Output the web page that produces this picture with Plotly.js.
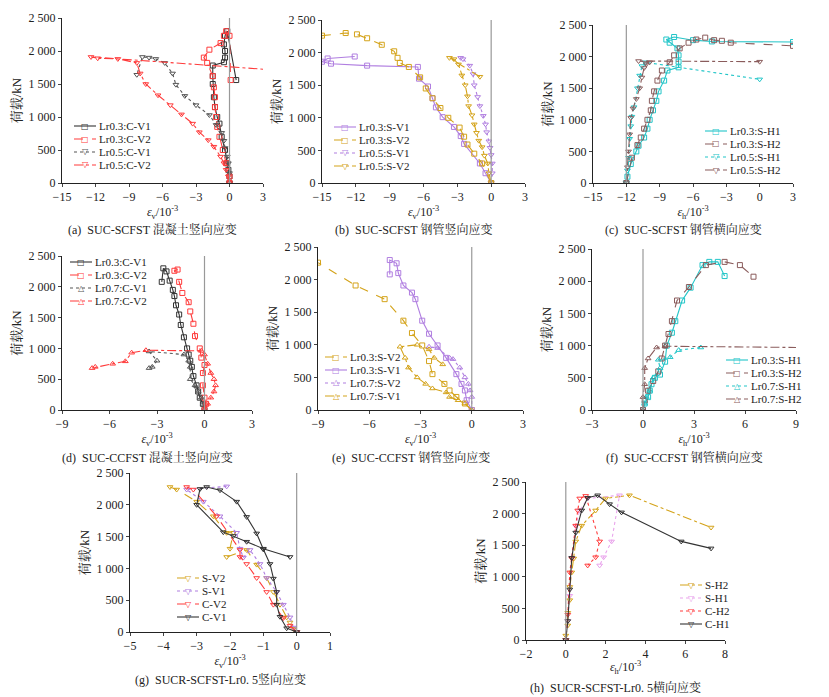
<!DOCTYPE html>
<html><head><meta charset="utf-8">
<script src="https://cdn.plot.ly/plotly-3.0.1.min.js"></script>
<style>body{margin:0;background:#fff}</style></head>
<body><div id="chart" style="width:829px;height:697px"></div>
<script>
// ---- data (strain x 10^-3, load kN) ----
// (a) SUC-SCFST concrete vertical
const aC1x = [0,0,-0.1,-0.2,-0.4,-0.7,-0.9,-1.1,-1.3,-1.4,-1.5,-1.5,-1.5,-0.5,-0.4,-0.4,-0.5,-0.4,-0.2,0.6];
const aC1y = [0,100,200,300,500,700,900,1000,1150,1300,1500,1620,1780,1830,1900,2000,2100,2230,2300,1560];
const aC2x = [0,0,-0.3,-0.6,-0.9,-1.1,-1.2,-1.3,-1.3,-1.4,-1.5,-2,-2.3,-1.8,-0.8,-0.5,-0.3,0,0.1];
const aC2y = [0,100,300,500,700,850,1000,1150,1300,1450,1620,1820,1900,2020,2120,2230,2300,2230,1560];
const aC3x = [0,0,-0.1,-0.2,-0.4,-0.5,-0.7,-1.2,-1.8,-3,-4,-4.8,-5.1,-5.8,-6.6,-7.2,-7.8,-8.3];
const aC3y = [0,150,300,400,530,640,760,880,1030,1180,1320,1490,1660,1820,1880,1900,1910,1640];
const aC4x = [0,-0.1,-0.3,-0.5,-0.8,-1.4,-1.9,-2.7,-3.3,-4.3,-5.3,-6.4,-7.5,-8,-8.3,-10,-11.8,-12.4,5];
const aC4y = [0,100,200,300,400,550,650,770,900,1040,1180,1330,1500,1660,1820,1880,1890,1910,1700];
// (b) SUC-SCFST steel vertical
const bS1x = [0,-0.5,-1,-2.4,-2.7,-3.3,-4.3,-4.9,-5.2,-5.6,-6.4,-6.5,-11,-14.2,-15,-14.5,-12.1];
const bS1y = [0,150,300,600,720,860,1010,1160,1300,1480,1600,1780,1800,1830,1860,1910,1940];
const bS2x = [0,-0.8,-1.5,-2.1,-2.4,-2.8,-3.8,-4.5,-5.2,-5.8,-6.3,-7.3,-8.1,-8.3,-8.6,-9.7,-11,-11.9,-12.9,-15];
const bS2y = [0,300,450,590,710,850,1000,1150,1300,1450,1620,1780,1840,1920,2020,2120,2220,2280,2300,2260];
const bS3x = [0,0.1,0.1,0,-0.1,-0.2,-0.4,-0.5,-0.7,-1,-1.2,-1.5,-1.6,-1.9,-2.5,-2.7];
const bS3y = [0,150,300,430,540,640,780,900,1030,1180,1320,1500,1670,1800,1900,1920];
const bS4x = [0,-0.2,-0.3,-0.6,-0.8,-1.1,-1.3,-1.5,-1.7,-2,-2.1,-2.3,-2.6,-2.9,-3.3,-3.7,-1];
const bS4y = [0,150,300,420,550,650,770,900,1040,1180,1330,1500,1650,1820,1900,1920,1630];
// (c) SUC-SCFST steel hoop
const cH1x = [-12,-11.9,-11.6,-11.1,-10.9,-10.4,-10.1,-9.9,-9.6,-9.3,-9.1,-8.6,-8.3,-7.3,-7.3,-7.3,-7.4,-8.1,-8.4,-7.7,-6,-4.3,3];
const cH1y = [0,100,300,500,590,720,860,1000,1150,1300,1450,1620,1780,1830,1920,2020,2130,2220,2270,2310,2260,2240,2230];
const cH2x = [-12,-11.5,-11,-10.7,-10.4,-10.1,-9.8,-9.7,-9.5,-9.2,-8.8,-8.1,-7.7,-7.2,-6.4,-5.7,-4.9,-4.1,-3.4,-2.6,3];
const cH2y = [0,400,600,720,860,1000,1150,1300,1450,1620,1780,1910,2020,2130,2220,2270,2300,2260,2250,2220,2170];
const cH3x = [-12,-11.9,-11.8,-11.7,-11.6,-11.5,-11.3,-11,-10.8,-10.6,-10.3,0];
const cH3y = [0,200,400,700,900,1050,1200,1500,1700,1850,1910,1640];
const cH4x = [-12,-11.9,-11.8,-11.7,-11.6,-11.4,-11.1,-10.8,-10.6,-10.4,-10.2,-9.9,-10.9,0];
const cH4y = [0,250,500,770,1030,1180,1330,1500,1670,1820,1880,1910,1930,1920];
// (d) SUC-CCFST concrete vertical
const dC1x = [0,-0.1,-0.3,-0.4,-0.5,-0.7,-0.8,-0.9,-1,-1.1,-1.3,-1.5,-1.6,-1.8,-1.9,-2,-2.2,-2.4,-2.6,-2.7];
const dC1y = [0,100,200,300,400,550,700,800,900,1000,1180,1380,1550,1700,1850,1950,2100,2250,2300,2080];
const dC2x = [0,0.1,0,-0.1,-0.1,0,-0.2,-0.3,-0.6,-0.7,-0.9,-1,-1.4,-1.6,-1.9,-1.7];
const dC2y = [0,100,200,400,600,730,850,1000,1200,1400,1600,1750,1900,2080,2260,2280];
const dC3x = [0,-0.1,-0.2,-0.4,-0.6,-0.9,-0.9,-1,-1.3,-3.5,-3,-3.3,-3.5];
const dC3y = [0,100,200,300,400,500,700,800,900,950,800,700,680];
const dC4x = [0,0.2,0.4,0.6,0.7,0.6,0.4,0.2,0,-0.2,-3.7,-4.6,-5,-5.8,-6.9,-7.1];
const dC4y = [0,100,200,300,400,500,600,750,900,960,970,930,790,750,700,680];
// (e) SUC-CCFST steel vertical
const eS1x = [0,-0.4,-0.9,-1.3,-1.6,-2.3,-2.5,-2.9,-3.5,-4,-5.1,-6.8,-9];
const eS1y = [0,100,200,300,400,550,750,990,1180,1370,1700,1910,2260];
const eS2x = [0,-0.3,-0.4,-0.6,-0.9,-1.5,-2,-2.5,-2.9,-3.3,-3.5,-4,-4.3,-4.4,-4.8,-4.8];
const eS2y = [0,150,300,400,550,800,990,1170,1370,1700,1800,1910,2100,2250,2300,2080];
const eS3x = [0,0,-0.1,-0.2,-0.4,-0.7,-1.1,-1.3,-2,-2.5];
const eS3y = [0,200,300,400,500,650,780,800,950,970];
const eS4x = [0,-0.4,-0.8,-1.3,-1.5,-2.3,-2.7,-3.2,-3.7,-3.9,-4.2,-3.2,-2.5,-2.2,-1.7];
const eS4y = [0,100,150,200,270,330,400,500,650,800,970,1000,930,800,700];
// (f) SUC-CCFST steel hoop
const fH1x = [0,0.1,0.3,0.4,0.5,0.7,1,1.3,1.4,1.7,1.9,2.3,2.8,3.5,3.9,4.4,4.8];
const fH1y = [0,100,200,300,400,500,550,750,1000,1200,1380,1700,1900,2250,2300,2300,2080];
const fH2x = [0,0.1,0.3,0.6,0.9,1.1,1.3,1.5,1.7,2,2.7,3.7,4.8,5.7,6.5];
const fH2y = [0,150,300,450,600,800,1000,1180,1380,1700,1910,2250,2300,2250,2070];
const fH3x = [0,0.1,0.2,0.4,0.6,1,0.9,1.6,2.1,3.4];
const fH3y = [0,100,200,300,500,650,780,820,930,970];
const fH4x = [0,0,0.1,0.1,0.3,0.8,1.3,9.5];
const fH4y = [0,200,400,650,800,970,990,970];
// (g) SUCR-SCFST-Lr0.5 vertical
const gS2x = [0,-0.1,-0.2,-0.3,-0.5,-0.7,-0.9,-1.2,-1.5,-2.1,-2,-1.9,-2.1,-2.5,-3,-3.6,-3.8];
const gS2y = [0,50,150,230,430,630,850,1060,1290,1180,1310,1560,1560,1820,2050,2240,2280];
const gS1x = [0,-0.1,-0.2,-0.4,-0.6,-0.9,-1.1,-1.4,-1.6,-1.7,-1.8,-2.3,-2.8,-3.3,-2.1];
const gS1y = [0,70,230,430,630,850,1070,1290,1170,1310,1560,1820,2050,2240,2290];
const gC2x = [0,-0.2,-0.4,-0.7,-0.9,-1.2,-1.5,-1.7,-1.7,-2.4,-3.1,-3.3];
const gC2y = [0,100,220,430,630,850,1070,1180,1290,1820,2240,2280];
const gC1x = [0,-0.3,-0.5,-0.6,-0.6,-0.7,-0.8,-1,-1.2,-1.5,-1.8,-2.3,-2.7,-2.9,-3,-2.2,-1.9,-1.5,-1,-0.2];
const gC1y = [0,60,240,430,630,840,1070,1300,1550,1810,2050,2230,2280,2250,2000,1570,1510,1420,1310,1180];
// (h) SUCR-SCFST-Lr0.5 hoop
const hS2x = [0,0,0.1,0.1,0.2,0.2,0.3,0.4,0.5,0.8,1.5,2,3.2,7.3];
const hS2y = [0,70,230,430,630,840,1070,1290,1560,1810,2050,2240,2290,1780];
const hS1x = [0,0.1,0.2,0.3,0.5,0.7,1.1,2.7,2.3,1.9,1.7];
const hS1y = [0,300,700,1300,1800,2050,2240,2290,1560,1310,1180];
const hC2x = [0,0.1,0.2,0.3,0.5,0.6,0.7,1,1.7,1.5,1.1];
const hC2y = [0,400,1070,1290,1810,2050,2240,2280,1560,1310,1180];
const hC1x = [0,0.1,0.2,0.3,0.5,0.8,1.1,1.6,2.2,2.8,5.8,7.3];
const hC1y = [0,300,800,1300,1700,2050,2250,2290,2150,2020,1560,1450];

const yTicks = [0,500,1000,1500,2000,2500];
const yTickText = ['0','500','1 000','1 500','2 000','2 500'];

const BLACK='#333333', RED='#ff3b3b', GRAY='#555555', PURPLE='#b07ee0', GOLD='#d4a31a',
      CYAN='#22c5c8', BROWN='#8a5c5c', PINK='#e9a3ec';
const SQ='square-open', TD='triangle-down-open', TU='triangle-up-open';
const GLYPH = {'square-open':'□', 'triangle-down-open':'▽', 'triangle-up-open':'△'};

// panel boxes in pixels: [left, right, top, bottom]; leg = [sample left x, first row y]
const W=829, H=697;
const panels = [
  {box:[62,263,18,183], xr:[-15,3], dt:3, cap:'(a)  SUC-SCFST 混凝土竖向应变', sub:'v', leg:[74,126]},
  {box:[322,525,20,183], xr:[-15,3], dt:3, cap:'(b)  SUC-SCFST 钢管竖向应变', sub:'v', leg:[334,127]},
  {box:[593,793,25,183], xr:[-15,3], dt:3, cap:'(c)  SUC-SCFST 钢管横向应变', sub:'h', leg:[705,131]},
  {box:[62,252,256,410], xr:[-9,3], dt:3, cap:'(d)  SUC-CCFST 混凝土竖向应变', sub:'v', leg:[70,262]},
  {box:[318,523,247,410], xr:[-9,3], dt:3, cap:'(e)  SUC-CCFST 钢管竖向应变', sub:'v', leg:[325,357]},
  {box:[592,796,249,410], xr:[-3,9], dt:3, cap:'(f)  SUC-CCFST 钢管横向应变', sub:'h', leg:[726,360]},
  {box:[130,330,473,632], xr:[-5,1], dt:1, cap:'(g)  SUCR-SCFST-Lr0. 5竖向应变', sub:'v', leg:[177,578]},
  {box:[526,725,482,640], xr:[-2,8], dt:2, cap:'(h)  SUCR-SCFST-Lr0. 5横向应变', sub:'h', leg:[680,585]}
];
const zeroX = [0,0,-12,0,0,0,0,0];

const series = [
  [['Lr0.3:C-V1',aC1x,aC1y,BLACK,'solid',SQ],['Lr0.3:C-V2',aC2x,aC2y,RED,'dash',SQ],
   ['Lr0.5:C-V1',aC3x,aC3y,GRAY,'dot',TD],['Lr0.5:C-V2',aC4x,aC4y,RED,'dashdot',TD]],
  [['Lr0.3:S-V1',bS1x,bS1y,PURPLE,'solid',SQ],['Lr0.3:S-V2',bS2x,bS2y,GOLD,'dash',SQ],
   ['Lr0.5:S-V1',bS3x,bS3y,PURPLE,'dot',TD],['Lr0.5:S-V2',bS4x,bS4y,GOLD,'dashdot',TD]],
  [['Lr0.3:S-H1',cH1x,cH1y,CYAN,'solid',SQ],['Lr0.3:S-H2',cH2x,cH2y,BROWN,'dash',SQ],
   ['Lr0.5:S-H1',cH3x,cH3y,CYAN,'dot',TD],['Lr0.5:S-H2',cH4x,cH4y,BROWN,'dashdot',TD]],
  [['Lr0.3:C-V1',dC1x,dC1y,BLACK,'solid',SQ],['Lr0.3:C-V2',dC2x,dC2y,RED,'dash',SQ],
   ['Lr0.7:C-V1',dC3x,dC3y,GRAY,'dot',TU],['Lr0.7:C-V2',dC4x,dC4y,RED,'dashdot',TU]],
  [['Lr0.3:S-V2',eS1x,eS1y,GOLD,'dash',SQ],['Lr0.3:S-V1',eS2x,eS2y,PURPLE,'solid',SQ],
   ['Lr0.7:S-V2',eS3x,eS3y,PURPLE,'dot',TU],['Lr0.7:S-V1',eS4x,eS4y,GOLD,'dashdot',TU]],
  [['Lr0.3:S-H1',fH1x,fH1y,CYAN,'solid',SQ],['Lr0.3:S-H2',fH2x,fH2y,BROWN,'dash',SQ],
   ['Lr0.7:S-H1',fH3x,fH3y,CYAN,'dot',TU],['Lr0.7:S-H2',fH4x,fH4y,BROWN,'dashdot',TU]],
  [['S-V2',gS2x,gS2y,GOLD,'dash',TD],['S-V1',gS1x,gS1y,PURPLE,'dot',TD],
   ['C-V2',gC2x,gC2y,RED,'dash',TD],['C-V1',gC1x,gC1y,BLACK,'solid',TD]],
  [['S-H2',hS2x,hS2y,GOLD,'dashdot',TD],['S-H1',hS1x,hS1y,PINK,'dot',TD],
   ['C-H2',hC2x,hC2y,RED,'dot',TD],['C-H1',hC1x,hC1y,BLACK,'solid',TD]]
];

const FONT = 'Liberation Serif, "Noto Sans CJK SC", serif';
const CJK = 'Liberation Serif, "Noto Serif CJK SC", "Noto Sans CJK SC", serif';
const data = [], shapes = [], annotations = [];
const layout = {width:W, height:H, margin:{l:0,r:0,t:0,b:0}, paper_bgcolor:'#fff', showlegend:false,
  plot_bgcolor:'rgba(0,0,0,0)', font:{family:FONT, size:12, color:'#222'}, shapes, annotations};
const px = v => v/W, py = v => 1 - v/H;

panels.forEach((p,i) => {
  const n = i===0 ? '' : String(i+1);
  const [l,r,t,b] = p.box;
  const ticks = [];
  for (let v=p.xr[0]; v<=p.xr[1]+1e-9; v+=p.dt) ticks.push(v);
  layout['xaxis'+n] = {domain:[px(l), px(r)], range:p.xr, anchor:'y'+n, showgrid:false, zeroline:false,
    showline:true, linecolor:'#222', ticks:'outside', ticklen:3, tickvals:ticks,
    ticktext:ticks.map(v=>v<0?'\u2212'+(-v):String(v)), tickfont:{size:12},
    title:{text:'<i>ε</i><sub>'+p.sub+'</sub>/10<sup>-3</sup>', standoff:2, font:{size:12}}};
  layout['yaxis'+n] = {domain:[py(b), py(t)], range:[0,2500], anchor:'x'+n, showgrid:false, zeroline:false,
    showline:true, linecolor:'#222', ticks:'outside', ticklen:3, tickvals:yTicks, ticktext:yTickText,
    tickfont:{size:12}, title:{text:'荷载/kN', standoff:4, font:{family:CJK, size:13}}};
  shapes.push({type:'line', xref:'x'+n, yref:'y'+n+' domain', x0:zeroX[i], x1:zeroX[i], y0:0, y1:1,
    line:{color:'#999', width:1.2}});
  annotations.push({xref:'paper', yref:'paper', x:px((l+r)/2 - 10), y:py(b+47), xanchor:'center',
    yanchor:'middle', showarrow:false, text:p.cap, font:{family:CJK, size:12}});
  series[i].forEach((s,k) => {
    data.push({x:s[1], y:s[2], name:s[0], type:'scatter', mode:'lines+markers', xaxis:'x'+n, yaxis:'y'+n,
      cliponaxis:true, line:{color:s[3], dash:s[4], width:1.1},
      marker:{symbol:s[5], size:5, color:s[3], line:{width:1}}});
    // compact legend entry
    const lx = p.leg[0], ly = p.leg[1] + k*13;
    shapes.push({type:'line', xref:'paper', yref:'paper', x0:px(lx), x1:px(lx+22), y0:py(ly), y1:py(ly),
      line:{color:s[3], dash:s[4], width:1.1}});
    annotations.push({xref:'paper', yref:'paper', x:px(lx+11), y:py(ly), xanchor:'center', yanchor:'middle',
      showarrow:false, text:GLYPH[s[5]], font:{family:'DejaVu Sans', size:8, color:s[3]}});
    annotations.push({xref:'paper', yref:'paper', x:px(lx+24), y:py(ly), xanchor:'left', yanchor:'middle',
      showarrow:false, text:s[0], font:{size:11}, borderpad:0});
  });
});

Plotly.newPlot('chart', data, layout, {staticPlot:true});
</script></body></html>
